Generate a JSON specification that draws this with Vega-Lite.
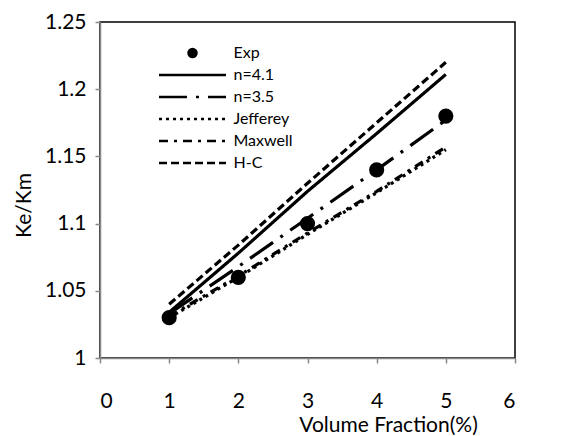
{
  "$schema": "https://vega.github.io/schema/vega-lite/v6.json",
  "width": 415,
  "height": 336,
  "autosize": {"type": "none"},
  "padding": {"left": 100, "top": 22, "right": 72, "bottom": 78},
  "config": {
    "font": "Lato",
    "view": {"stroke": "black", "strokeWidth": 1.5},
    "axis": {"grid": false, "domainColor": "#888888", "tickColor": "#888888", "domainWidth": 1.5, "tickWidth": 1.5, "tickSize": 5, "labelColor": "black", "titleColor": "black", "labelFont": "Lato", "titleFont": "Lato", "labelFontSize": 21, "titleFontSize": 21, "titleFontWeight": "normal"}
  },
  "datasets": {
    "curves": [
      {"series": "n=4.1", "x": 1, "y": 1.034}, {"series": "n=4.1", "x": 2, "y": 1.078}, {"series": "n=4.1", "x": 3, "y": 1.124}, {"series": "n=4.1", "x": 4, "y": 1.167}, {"series": "n=4.1", "x": 5, "y": 1.211},
      {"series": "n=3.5", "x": 1, "y": 1.033}, {"series": "n=3.5", "x": 2, "y": 1.068}, {"series": "n=3.5", "x": 3, "y": 1.104}, {"series": "n=3.5", "x": 4, "y": 1.140}, {"series": "n=3.5", "x": 5, "y": 1.177},
      {"series": "Jefferey", "x": 1, "y": 1.030}, {"series": "Jefferey", "x": 2, "y": 1.060}, {"series": "Jefferey", "x": 3, "y": 1.092}, {"series": "Jefferey", "x": 4, "y": 1.123}, {"series": "Jefferey", "x": 5, "y": 1.155},
      {"series": "Maxwell", "x": 1, "y": 1.031}, {"series": "Maxwell", "x": 2, "y": 1.061}, {"series": "Maxwell", "x": 3, "y": 1.093}, {"series": "Maxwell", "x": 4, "y": 1.124}, {"series": "Maxwell", "x": 5, "y": 1.157},
      {"series": "H-C", "x": 1, "y": 1.040}, {"series": "H-C", "x": 2, "y": 1.084}, {"series": "H-C", "x": 3, "y": 1.130}, {"series": "H-C", "x": 4, "y": 1.175}, {"series": "H-C", "x": 5, "y": 1.220}
    ],
    "exp": [
      {"series": "Exp", "x": 1, "y": 1.03}, {"series": "Exp", "x": 2, "y": 1.06}, {"series": "Exp", "x": 3, "y": 1.10}, {"series": "Exp", "x": 4, "y": 1.14}, {"series": "Exp", "x": 5, "y": 1.18}
    ]
  },
  "encoding": {
    "x": {"field": "x", "type": "quantitative", "scale": {"domain": [0, 6], "nice": false}, "axis": {"values": [0,1,2,3,4,5,6], "title": "Volume Fraction(%)", "labelPadding": 27, "titleX": 288, "titleY": 56, "titleBaseline": "top"}},
    "y": {"field": "y", "type": "quantitative", "scale": {"domain": [1, 1.25], "nice": false, "zero": false}, "axis": {"values": [1, 1.05, 1.1, 1.15, 1.2, 1.25], "title": "Ke/Km", "labelPadding": 9, "titleX": -76, "titleY": 183, "titleBaseline": "middle", "titleAlign": "center", "labelExpr": "datum.value === 1 ? '1' : format(datum.value, '.2~f')"}}
  },
  "layer": [
    {
      "data": {"name": "curves"},
      "mark": {"type": "line", "color": "black", "strokeWidth": 3.2},
      "encoding": {
        "detail": {"field": "series"},
        "strokeDash": {
          "field": "series", "type": "nominal",
          "scale": {"domain": ["Exp", "n=4.1", "n=3.5", "Jefferey", "Maxwell", "H-C"], "range": [[1,0], [1,0], [28,9,3,9], [3,4], [9,6,3,6], [8,4]]},
          "legend": {
            "title": null, "orient": "none", "legendX": 84.5, "legendY": 23, "padding": 0,
            "symbolType": "stroke", "symbolSize": 100, "symbolStrokeWidth": 2.5, "symbolStrokeColor": "black",
            "labelFontSize": 16, "labelFont": "Lato", "labelOffset": 33, "rowPadding": 6,
            "encode": {"symbols": {"update": {
              "shape": {"signal": "datum.value === 'Exp' ? 'circle' : 'stroke'"},
              "size": {"signal": "datum.value === 'Exp' ? 110 : 4489"},
              "fill": {"signal": "datum.value === 'Exp' ? 'black' : 'transparent'"},
              "stroke": {"value": "black"},
              "strokeWidth": {"signal": "datum.value === 'Exp' ? 0 : 2.5"},
              "opacity": {"value": 1}
            }}}
          }
        }
      }
    },
    {
      "data": {"name": "exp"},
      "mark": {"type": "point", "filled": true, "color": "black", "size": 230, "opacity": 1}
    }
  ]
}
